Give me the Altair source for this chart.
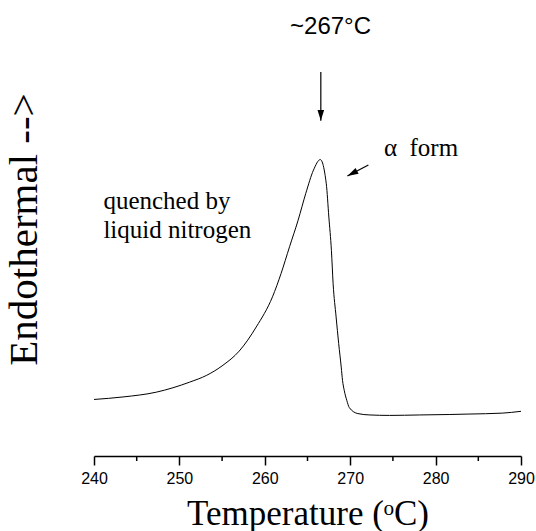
import altair as alt
import pandas as pd

# DSC trace: temperature (°C) and endothermic heat flow (arbitrary units)
temperature = [240.0, 243.4, 247.3, 251.2, 253.2, 255.1, 257.0, 259.0, 260.9, 261.9,
               262.9, 263.9, 264.8, 265.7, 266.5, 267.2, 267.5, 267.8, 268.0, 268.35,
               268.65, 268.95, 269.1, 269.3, 269.6, 269.9, 270.9, 272.3, 274.6,
               278.1, 281.6, 283.9, 287.8, 290.0]
heat_flow = [12.4, 12.95, 14.0, 16.2, 17.7, 19.9, 23.0, 28.3, 34.9, 40.0,
             45.9, 51.7, 57.6, 62.7, 65.0, 59.7, 52.4, 45.1, 37.8, 30.5,
             24.7, 19.5, 16.6, 14.4, 12.2, 10.6, 9.3, 9.0, 8.9,
             9.0, 9.1, 9.2, 9.4, 9.8]

major_ticks = [240, 250, 260, 270, 280, 290]
minor_ticks = [245, 255, 265, 275, 285]

# annotation texts and their anchor points in data units
notes_serif = ["quenched by", "liquid nitrogen", "α\u2002form"]
notes_serif_x = [241.1, 241.1, 273.95]
notes_serif_y = [54.1, 47.7, 65.8]
peak_label = ["~267°C"]
peak_label_x = [267.7]
peak_label_y = [92.5]

# arrows: shaft start, tip, and head orientation (degrees clockwise from up)
arrow_x = [266.56, 272.13]
arrow_y = [84.2, 63.8]
arrow_tip_x = [266.56, 269.67]
arrow_tip_y = [73.5, 61.4]
arrow_angle = [180, 242.4]

curve = pd.DataFrame({"T": temperature, "H": heat_flow})
minor = pd.DataFrame({"T": minor_ticks})
serif_df = pd.DataFrame({"text": notes_serif, "T": notes_serif_x, "H": notes_serif_y})
sans_df = pd.DataFrame({"text": peak_label, "T": peak_label_x, "H": peak_label_y})
arrows = pd.DataFrame({"T": arrow_x, "H": arrow_y, "T2": arrow_tip_x, "H2": arrow_tip_y,
                       "angle": arrow_angle})

x_scale = alt.Scale(domain=[240, 290], nice=False, zero=False)
y_scale = alt.Scale(domain=[0, 100], nice=False, zero=False)

x_axis = alt.Axis(
    values=major_ticks, format="d", grid=False, labelFlush=False,
    domainColor="black", domainWidth=1.5,
    tickColor="black", tickWidth=1.5, tickSize=9,
    labelFont="Liberation Sans", labelFontSize=16, labelColor="black", labelPadding=5,
    title="Temperature (ᵒC)", titleFont="Liberation Serif", titleFontSize=35,
    titleFontWeight="normal", titleColor="black",
    titleBaseline="alphabetic", titleY=68,
)
y_axis = alt.Axis(
    domain=False, ticks=False, labels=False, grid=False,
    title="Endothermal -->", titleFont="Liberation Serif", titleFontSize=41,
    titleFontWeight="normal", titleColor="black",
    titleAngle=270, titleAlign="center", titleBaseline="alphabetic",
    titleX=-58, titleY=229,
)

line = alt.Chart(curve).mark_line(color="black", strokeWidth=1, interpolate="monotone").encode(
    x=alt.X("T:Q", scale=x_scale, axis=x_axis),
    y=alt.Y("H:Q", scale=y_scale, axis=y_axis),
)

minor_rules = alt.Chart(minor).mark_rule(color="black", strokeWidth=1.5).encode(
    x="T:Q", y=alt.value(456), y2=alt.value(461),
)

serif_text = alt.Chart(serif_df).mark_text(
    font="Liberation Serif", fontSize=25, align="left", baseline="alphabetic", color="black"
).encode(x="T:Q", y="H:Q", text="text:N")

sans_text = alt.Chart(sans_df).mark_text(
    font="Liberation Sans", fontSize=24, align="center", baseline="alphabetic", color="black"
).encode(x="T:Q", y="H:Q", text="text:N")

shafts = alt.Chart(arrows).mark_rule(color="black", strokeWidth=1.2).encode(
    x="T:Q", y="H:Q", x2="T2:Q", y2="H2:Q",
)

heads = alt.Chart(arrows).mark_point(
    shape="M0,0 L0.3,1 L-0.3,1 Z", size=480, filled=True, color="black", opacity=1,
).encode(x="T2:Q", y="H2:Q", angle=alt.Angle("angle:Q", scale=None))

chart = alt.layer(line, minor_rules, shafts, heads, serif_text, sans_text).properties(
    width=427, height=456,
    autosize=alt.AutoSizeParams(type="none"),
    padding={"left": 94, "top": 0, "right": 15, "bottom": 75},
    background="white",
).configure_view(stroke=None)

chart.save("out.html", embed_options={"renderer": "svg", "actions": False})
